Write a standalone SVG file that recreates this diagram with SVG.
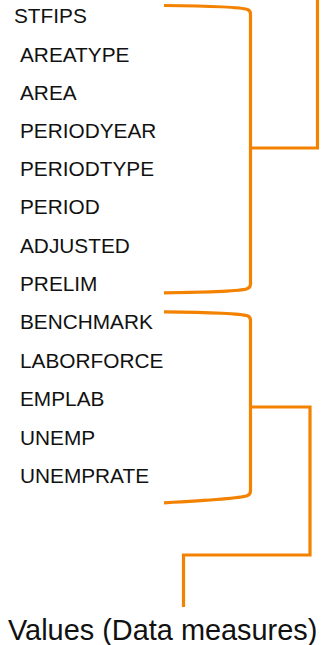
<svg xmlns="http://www.w3.org/2000/svg" width="322" height="645" viewBox="0 0 322 645">
  <style>
    .lbl { font-family: "Liberation Sans", Arial, sans-serif; font-size: 20.8px; fill: #111; }
    .big { font-family: "Liberation Sans", Arial, sans-serif; font-size: 28.9px; fill: #111; }
    .wire { fill: none; stroke: #F38200; stroke-width: 3.2; stroke-linejoin: miter; }
  </style>
  <rect width="322" height="645" fill="#fff"/>
  <g id="connectors">
    <path class="wire" d="M164,5.5 Q238,6.2 247.5,9.5 Q250.5,10.8 250.5,14 V284 Q250.5,287.5 247,288.8 Q238,292 164,292.8"/>
    <path class="wire" d="M250.5,148 H317.5 V0"/>
    <path class="wire" d="M164,311.8 Q238,312.5 247.5,315.8 Q250.5,317 250.5,320.5 V491 Q250.5,494.5 247,495.8 Q238,499 164,502.8"/>
    <path class="wire" d="M250.5,407 H310 V555 H183.5 V607"/>
  </g>
  <g id="n-stfips"><text class="lbl" x="14" y="22.7">STFIPS</text></g>
  <g id="n-areatype"><text class="lbl" x="20" y="61.5">AREATYPE</text></g>
  <g id="n-area"><text class="lbl" x="20" y="99.5">AREA</text></g>
  <g id="n-periodyear"><text class="lbl" x="20" y="137.5">PERIODYEAR</text></g>
  <g id="n-periodtype"><text class="lbl" x="20" y="176">PERIODTYPE</text></g>
  <g id="n-period"><text class="lbl" x="20" y="214">PERIOD</text></g>
  <g id="n-adjusted"><text class="lbl" x="20" y="252.5">ADJUSTED</text></g>
  <g id="n-prelim"><text class="lbl" x="20" y="290.5">PRELIM</text></g>
  <g id="n-benchmark"><text class="lbl" x="20" y="328.5">BENCHMARK</text></g>
  <g id="n-laborforce"><text class="lbl" x="20" y="368">LABORFORCE</text></g>
  <g id="n-emplab"><text class="lbl" x="20" y="406">EMPLAB</text></g>
  <g id="n-unemp"><text class="lbl" x="20" y="445">UNEMP</text></g>
  <g id="n-unemprate"><text class="lbl" x="20" y="483.3">UNEMPRATE</text></g>
  <g id="n-values"><text class="big" x="8" y="640">Values (Data measures)</text></g>
</svg>
